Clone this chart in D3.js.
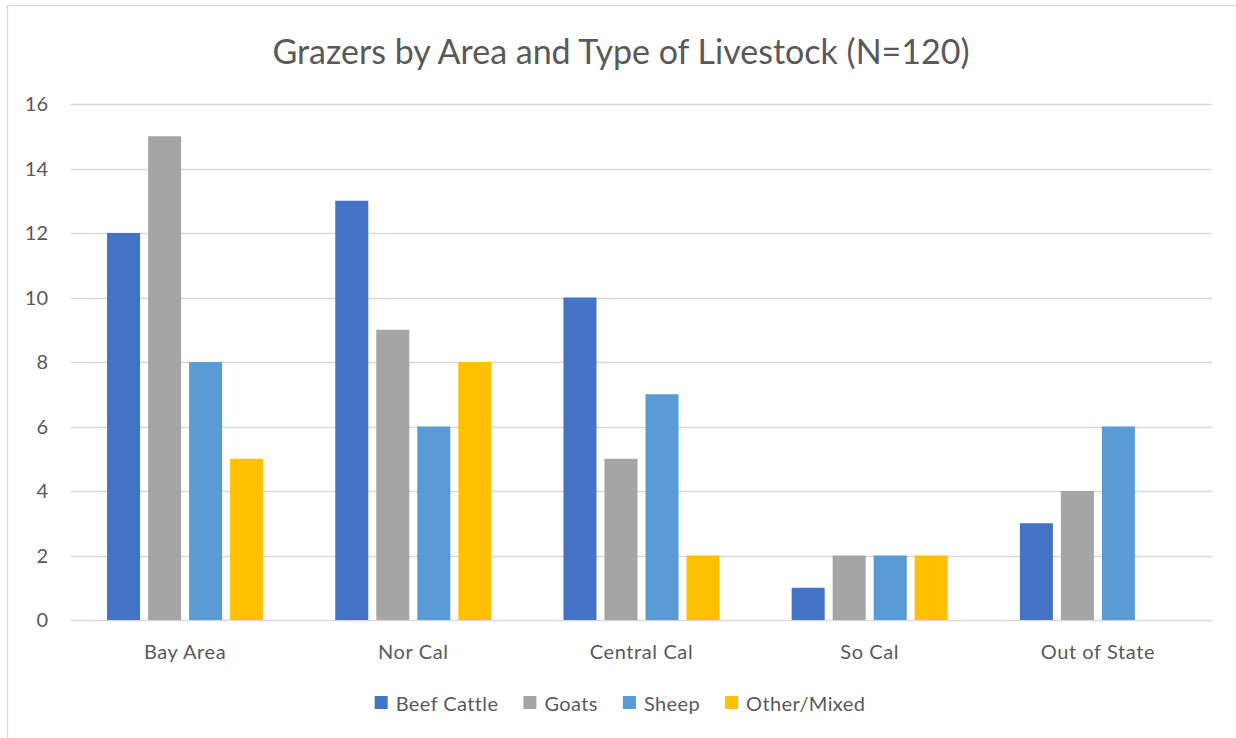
<!DOCTYPE html>
<html>
<head>
<meta charset="utf-8">
<script src="https://cdn.jsdelivr.net/npm/d3@7"></script>
<style>
  html, body { margin: 0; padding: 0; background: #fff; }
  svg text { font-family: Lato, "Open Sans", sans-serif; fill: #595959; }
</style>
</head>
<body>
<div id="chart"></div>
<script>
const areas = ['Bay Area', 'Nor Cal', 'Central Cal', 'So Cal', 'Out of State'];
const seriesNames = ['Beef Cattle', 'Goats', 'Sheep', 'Other/Mixed'];
const beefCattle = [12, 13, 10, 1, 3];
const goats = [15, 9, 5, 2, 4];
const sheep = [8, 6, 7, 2, 6];
const otherMixed = [5, 8, 2, 2, 0];
const yTicks = [0, 2, 4, 6, 8, 10, 12, 14, 16];
const colors = ['#4472C4', '#A5A5A5', '#5B9BD5', '#FFC000'];

const width = 1236;
const height = 738;
const margin = { top: 104, right: 24, bottom: 118, left: 71 };

const seriesValues = [beefCattle, goats, sheep, otherMixed];
const rows = areas.map((area, i) => ({
  area,
  values: seriesNames.map((name, j) => ({ name, value: seriesValues[j][i] }))
}));

const svg = d3.select('#chart').append('svg')
    .attr('width', width)
    .attr('height', height);

// chart frame (runs off the right and bottom edges in the original)
svg.append('rect')
    .attr('x', 7.5)
    .attr('y', 5.5)
    .attr('width', width + 20)
    .attr('height', height + 20)
    .attr('fill', 'none')
    .attr('stroke', '#d9d9d9')
    .attr('stroke-width', 1.3);

const x0 = d3.scaleBand()
    .domain(areas)
    .range([margin.left, width - margin.right]);

const groupWidth = x0.bandwidth() * 0.684;
const x1 = d3.scaleBand()
    .domain(seriesNames)
    .range([0, groupWidth])
    .paddingInner(0.195);

const y = d3.scaleLinear()
    .domain([0, 16])
    .range([height - margin.bottom, margin.top]);

// gridlines
svg.append('g')
  .selectAll('line')
  .data(yTicks)
  .enter().append('line')
    .attr('x1', margin.left)
    .attr('x2', width - margin.right)
    .attr('y1', (d) => Math.round(y(d)) + 0.5)
    .attr('y2', (d) => Math.round(y(d)) + 0.5)
    .attr('stroke', '#d9d9d9')
    .attr('stroke-width', 1.5);

// y tick labels
svg.append('g')
  .selectAll('text')
  .data(yTicks)
  .enter().append('text')
    .attr('x', 48)
    .attr('y', (d) => y(d))
    .attr('dy', '0.36em')
    .attr('text-anchor', 'end')
    .style('font-size', '20px')
    .text((d) => d);

// bars
const groups = svg.append('g')
  .selectAll('g')
  .data(rows)
  .enter().append('g')
    .attr('transform', (d) => `translate(${x0(d.area) + (x0.bandwidth() - groupWidth) / 2},0)`);

groups.selectAll('rect')
    .data((d) => d.values.filter((v) => v.value > 0))
  .enter().append('rect')
    .attr('x', (d) => x1(d.name))
    .attr('y', (d) => y(d.value))
    .attr('width', x1.bandwidth())
    .attr('height', (d) => y(0) - y(d.value))
    .attr('fill', (d) => colors[seriesNames.indexOf(d.name)]);

// category labels
svg.append('g')
  .selectAll('text')
  .data(areas)
  .enter().append('text')
    .attr('x', (d) => x0(d) + x0.bandwidth() / 2)
    .attr('y', 659)
    .attr('text-anchor', 'middle')
    .style('font-size', '20px')
    .style('letter-spacing', '0.6px')
    .text((d) => d);

// title
svg.append('text')
    .attr('x', 621)
    .attr('y', 64)
    .attr('text-anchor', 'middle')
    .style('font-size', '34px')
    .text('Grazers by Area and Type of Livestock (N=120)');

// legend, laid out from measured text widths and centered
const legend = svg.append('g');
const items = legend.selectAll('g')
    .data(seriesNames)
  .enter().append('g');

items.append('rect')
    .attr('y', 696)
    .attr('width', 13)
    .attr('height', 13)
    .attr('fill', (d, i) => colors[i]);

items.append('text')
    .attr('x', 21)
    .attr('y', 711)
    .style('font-size', '20px')
    .style('letter-spacing', '0.4px')
    .text((d) => d);

let offset = 0;
items.each(function () {
  const w = d3.select(this).select('text').node().getComputedTextLength();
  d3.select(this).attr('transform', `translate(${offset},0)`);
  offset += 21 + w + 25;
});
const legendWidth = offset - 25;
legend.attr('transform', `translate(${620 - legendWidth / 2},0)`);
</script>
</body>
</html>
